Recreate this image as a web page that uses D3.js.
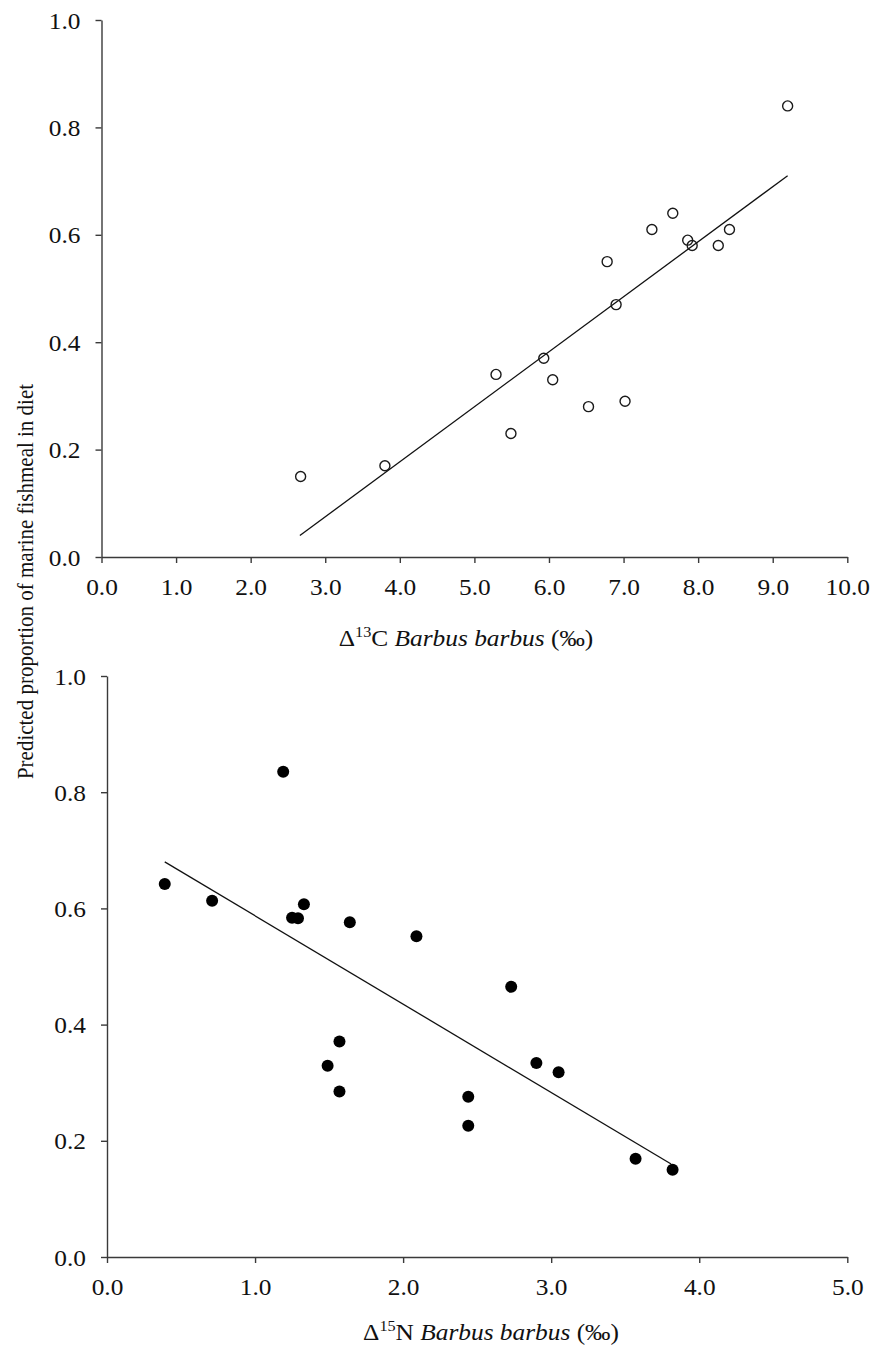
<!DOCTYPE html>
<html>
<head>
<meta charset="utf-8">
<script src="https://cdn.jsdelivr.net/npm/d3@7"></script>
<style>
  html, body { margin: 0; padding: 0; background: #fff; }
  svg { display: block; }
  text { font-family: "Liberation Serif", "Times New Roman", serif; fill: #111; }
</style>
</head>
<body>
<svg id="chart" width="874" height="1351"></svg>
<script>
// ---- Data ----
// Top panel: Δ13C vs predicted proportion
const c13X = [2.67, 3.80, 5.29, 5.49, 5.93, 6.05, 6.53, 6.78, 6.90, 7.02, 7.38, 7.66, 7.86, 7.92, 8.27, 8.42, 9.20];
const c13Y = [0.15, 0.17, 0.34, 0.23, 0.37, 0.33, 0.28, 0.55, 0.47, 0.29, 0.61, 0.64, 0.59, 0.58, 0.58, 0.61, 0.84];
const c13FitX = [2.66, 9.20];
const c13FitY = [0.04, 0.71];
const c13XTicks = [0, 1, 2, 3, 4, 5, 6, 7, 8, 9, 10];

// Bottom panel: Δ15N vs predicted proportion
const n15X = [0.39, 0.71, 1.19, 1.25, 1.29, 1.33, 1.64, 2.09, 2.73, 1.57, 1.49, 1.57, 2.44, 2.44, 2.90, 3.05, 3.57, 3.82];
const n15Y = [0.642, 0.613, 0.835, 0.584, 0.583, 0.607, 0.576, 0.552, 0.465, 0.371, 0.329, 0.285, 0.276, 0.226, 0.334, 0.318, 0.169, 0.150];
const n15FitX = [0.39, 3.81];
const n15FitY = [0.68, 0.16];
const n15XTicks = [0, 1, 2, 3, 4, 5];

const yTicks = [0, 0.2, 0.4, 0.6, 0.8, 1.0];
const yLabel = "Predicted proportion of marine fishmeal in diet";

const svg = d3.select("#chart");
const fmt = d3.format(".1f");
const axisColor = "#3a3a3a";
const SX = 1.08;          // slight horizontal stretch of the glyphs, as in the reference
const FS = "23.5px";

function panel(cfg) {
  const x = d3.scaleLinear().domain(cfg.xDomain).range([cfg.x0, cfg.x1]);
  const y = d3.scaleLinear().domain([0, 1]).range([cfg.y0, cfg.y1]);
  const g = svg.append("g");

  // x axis
  const xa = g.append("g").attr("transform", `translate(0,${cfg.y0})`)
    .call(d3.axisBottom(x).tickValues(cfg.xTicks).tickFormat(fmt).tickSize(6).tickSizeOuter(0));
  xa.select(".domain").attr("stroke", axisColor).attr("stroke-width", 1.4);
  xa.selectAll(".tick line").attr("stroke", axisColor).attr("stroke-width", 1.4);
  xa.selectAll(".tick text").attr("x", 0).attr("y", 38).attr("dy", 0)
    .attr("transform", `scale(${SX},1)`)
    .style("font-size", FS).style("font-family", "Liberation Serif").attr("fill", "#111");

  // y axis
  const ya = g.append("g").attr("transform", `translate(${cfg.x0},0)`)
    .call(d3.axisLeft(y).tickValues(yTicks).tickFormat(fmt).tickSize(6).tickSizeOuter(0));
  ya.select(".domain").attr("stroke", axisColor).attr("stroke-width", 1.4);
  ya.selectAll(".tick line").attr("stroke", axisColor).attr("stroke-width", 1.4);
  ya.selectAll(".tick text").attr("x", -21 / SX).attr("dy", "0.34em")
    .attr("transform", `scale(${SX},1)`)
    .style("font-size", FS).style("font-family", "Liberation Serif").attr("fill", "#111");

  // regression line
  const fit = cfg.fitX.map((v, i) => [v, cfg.fitY[i]]);
  g.append("path")
    .datum(fit)
    .attr("d", d3.line().x(d => x(d[0])).y(d => y(d[1])))
    .attr("fill", "none").attr("stroke", "#111").attr("stroke-width", 1.3);

  // points
  const pts = cfg.xs.map((v, i) => [v, cfg.ys[i]]);
  g.selectAll("circle.pt").data(pts).enter().append("circle")
    .attr("class", "pt")
    .attr("cx", d => x(d[0])).attr("cy", d => y(d[1]))
    .attr("r", cfg.filled ? 6 : 5)
    .attr("fill", cfg.filled ? "#000" : "#fff")
    .attr("fill-opacity", cfg.filled ? 1 : 0)
    .attr("stroke", cfg.filled ? "none" : "#1a1a1a")
    .attr("stroke-width", 1.4);

  // x axis title
  const t = g.append("text")
    .attr("transform", `translate(${cfg.titleX},${cfg.titleY}) scale(${SX},1)`)
    .attr("text-anchor", "middle")
    .style("font-size", FS);
  t.append("tspan").text("Δ");
  t.append("tspan").text(cfg.iso).style("font-size", "15px").attr("dy", -9);
  t.append("tspan").text(cfg.elem).attr("dy", 9);
  t.append("tspan").text(" ");
  t.append("tspan").text("Barbus barbus").style("font-style", "italic");
  t.append("tspan").text(" (‰)");
}

panel({
  xDomain: [0, 10], xTicks: c13XTicks,
  x0: 101.5, x1: 847.3, y0: 557, y1: 20,
  xs: c13X, ys: c13Y, fitX: c13FitX, fitY: c13FitY,
  filled: false, iso: "13", elem: "C",
  titleX: 466, titleY: 646
});

panel({
  xDomain: [0, 5], xTicks: n15XTicks,
  x0: 107, x1: 847.3, y0: 1257, y1: 676,
  xs: n15X, ys: n15Y, fitX: n15FitX, fitY: n15FitY,
  filled: true, iso: "15", elem: "N",
  titleX: 491, titleY: 1340
});

// shared y-axis label
svg.append("text")
  .attr("transform", "translate(32.5,581.5) rotate(-90) scale(1,1.08)")
  .attr("text-anchor", "middle")
  .style("font-size", "21px")
  .text(yLabel);
</script>
</body>
</html>
